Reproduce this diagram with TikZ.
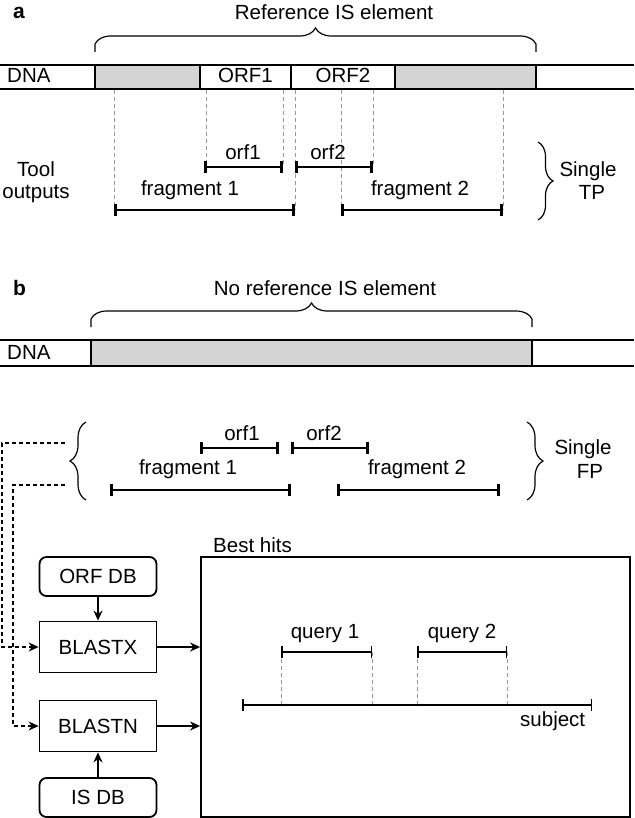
\documentclass[tikz,border=0pt]{standalone}
\usepackage{fontspec}
\setmainfont{Liberation Sans}
\usetikzlibrary{arrows.meta,decorations.pathreplacing}

\begin{document}
\begin{tikzpicture}[x=1pt,y=-1pt,
    font=\fontsize{20.5}{24}\selectfont,
    txt/.style={inner sep=0pt,anchor=base},
    band/.style={line width=1.5pt},
    isfill/.style={fill=black!17},
    bar/.style={line width=2.6pt,{Bar[width=12pt]}-{Bar[width=12pt]}},
    thinbar/.style={line width=1.5pt,{Bar[width=12pt]}-{Bar[width=12pt]}},
    guide/.style={black!40,line width=0.9pt,dash pattern=on 4pt off 3pt},
    curly/.style={line width=1.2pt,decoration={brace,amplitude=#1}},
    tool/.style={draw,line width=1.8pt,minimum width=117pt,minimum height=51pt,inner sep=0pt},
    dbbox/.style={tool,rounded corners=7pt,minimum height=39pt},
    flow/.style={line width=1.7pt,-{Stealth[length=10pt,width=9pt]}},
    feed/.style={flow,line width=1.2pt,dash pattern=on 4pt off 3pt}]
    \useasboundingbox (0,0) rectangle (634,818);

    \node[txt,anchor=base west,font=\fontsize{21}{24}\selectfont\bfseries] (lbla) at (13,19) {a};
    \node[txt] (refis) at (334,20) {Reference IS element};
    \draw[curly=16pt] (95,52) -- (95,44) decorate {-- (536,44)} -- (536,52);
    \draw[band] (0,65) -- (634,65) (0,89) -- (634,89);
    \draw[band,isfill] (95,65) rectangle (200,89) (395,65) rectangle (536,89);
    \draw[band] (291,65) -- (291,89);
    \node[txt,anchor=base west] (dnaa) at (7,83) {DNA};
    \node[txt] (orfa1) at (245.5,83) {ORF1};
    \node[txt] (orfa2) at (343,83) {ORF2};
    \foreach \gx/\gy in {114/210,206/167,283/167,295/210,341/210,373/167,503/210}
        \draw[guide] (\gx,90) -- (\gx,\gy);
    \draw[bar] (204,167) -- (283,167);
    \draw[bar] (295,167) -- (373,167);
    \draw[bar] (114,210) -- (295,210);
    \draw[bar] (341,210) -- (503,210);
    \node[txt] (orfla1) at (243,160) {orf1};
    \node[txt] (orfla2) at (328,160) {orf2};
    \node[txt] (fraga1) at (190,196) {fragment 1};
    \node[txt] (fraga2) at (420,196) {fragment 2};
    \node[txt] (tool) at (36,177) {Tool};
    \node[txt] (outputs) at (36,199) {outputs};
    \draw[curly=15pt,decorate] (538,142) -- (538,220);
    \node[txt] (singlea) at (588,177) {Single};
    \node[txt] (tp) at (592,200) {TP};

    \node[txt,anchor=base west,font=\fontsize{21}{24}\selectfont\bfseries] (lblb) at (13,295) {b};
    \node[txt] (norefis) at (325,295) {No reference IS element};
    \draw[curly=16pt] (91,327) -- (91,319) decorate {-- (532,319)} -- (532,327);
    \draw[band] (0,340) -- (634,340) (0,366) -- (634,366);
    \draw[band,isfill] (91,340) rectangle (532,366);
    \node[txt,anchor=base west] (dnab) at (7,359) {DNA};
    \draw[curly=16pt,decorate] (86,500) -- (86,422);
    \draw[curly=16pt,decorate] (527,422) -- (527,500);
    \draw[bar] (200,448) -- (279,448);
    \draw[bar] (291,448) -- (369,448);
    \draw[bar] (110,490) -- (291,490);
    \draw[bar] (337,490) -- (500,490);
    \node[txt] (orflb1) at (242,440) {orf1};
    \node[txt] (orflb2) at (324,440) {orf2};
    \node[txt] (fragb1) at (188,474) {fragment 1};
    \node[txt] (fragb2) at (417,474) {fragment 2};
    \node[txt] (singleb) at (583,454) {Single};
    \node[txt] (fp) at (590,478) {FP};

    \node[dbbox] (orfdb) at (98,576.5) {ORF DB};
    \node[tool] (blastx) at (98,647) {BLASTX};
    \node[tool] (blastn) at (98,726) {BLASTN};
    \node[dbbox] (isdb) at (98,797.5) {IS DB};
    \node[draw,line width=1.8pt,minimum width=429pt,minimum height=260pt,inner sep=0pt] (hits) at (415.5,687) {};
    \node[txt,anchor=base west] (besthits) at (213,552) {Best hits};
    \draw[flow] (orfdb) -- (blastx);
    \draw[flow] (isdb) -- (blastn);
    \draw[flow] (blastx) -- (blastx -| hits.west);
    \draw[flow] (blastn) -- (blastn -| hits.west);
    \coordinate (fpup) at (65,443);
    \coordinate (fplow) at (65,485);
    \coordinate (railx) at (2,443);
    \coordinate (railn) at (13,485);
    \draw[feed] (fpup) -- (railx) |- (blastx);
    \draw[feed] (fplow) -- (railn) |- (blastn);

    \foreach \gx in {281,372,417,507}
        \draw[guide] (\gx,652) -- (\gx,708);
    \draw[thinbar] (281,652) -- (372,652);
    \draw[thinbar] (417,652) -- (507,652);
    \draw[thinbar] (242,705) -- (592,705);
    \node[txt] (query1) at (325,638) {query 1};
    \node[txt] (query2) at (462,638) {query 2};
    \node[txt,anchor=base west] (subject) at (520,726) {subject};
\end{tikzpicture}
\end{document}
